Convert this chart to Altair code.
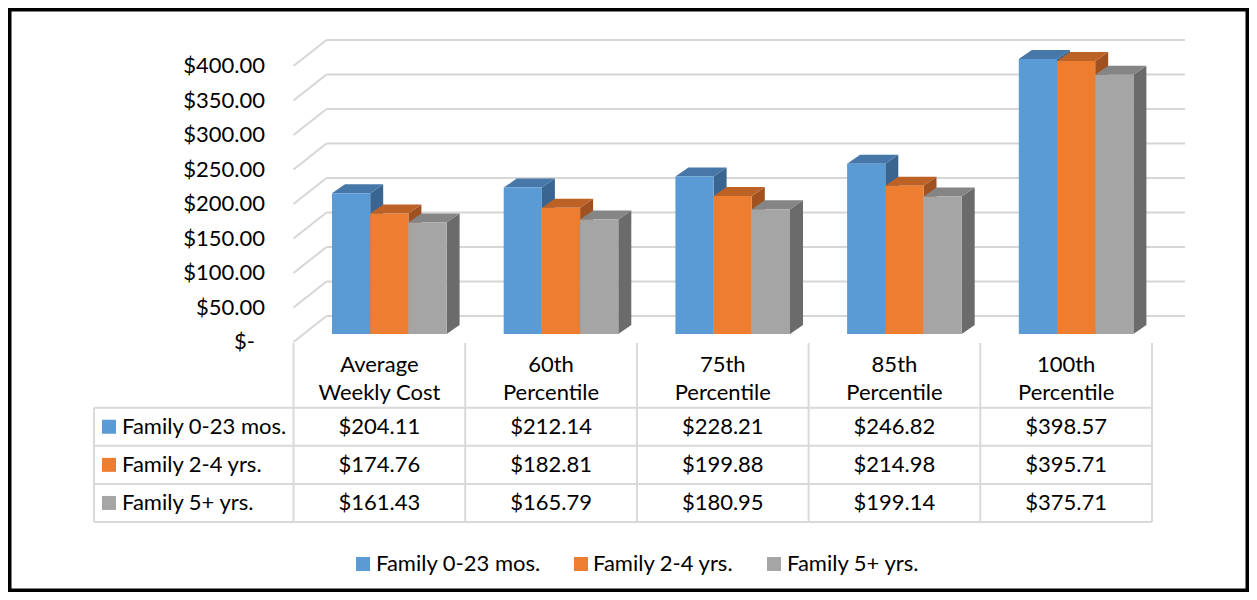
import altair as alt
import pandas as pd

# ---------------- data ----------------
categories = ["Average Weekly Cost", "60th Percentile", "75th Percentile",
              "85th Percentile", "100th Percentile"]
header_line1 = ["Average", "60th", "75th", "85th", "100th"]
header_line2 = ["Weekly Cost", "Percentile", "Percentile", "Percentile", "Percentile"]
series = ["Family 0-23 mos.", "Family 2-4 yrs.", "Family 5+ yrs."]
values_0_23 = [204.11, 212.14, 228.21, 246.82, 398.57]
values_2_4 = [174.76, 182.81, 199.88, 214.98, 395.71]
values_5p = [161.43, 165.79, 180.95, 199.14, 375.71]
tick_values = [50, 100, 150, 200, 250, 300, 350, 400]
tick_labels = ["$50.00", "$100.00", "$150.00", "$200.00",
               "$250.00", "$300.00", "$350.00", "$400.00"]
zero_value = [0]
zero_label = ["$-"]

front_colors = ["#5B9BD5", "#ED7D31", "#A5A5A5"]
top_colors = ["#4677a8", "#bd6226", "#858585"]
side_colors = ["#3b6591", "#a0511f", "#6b6b6b"]
FONT = "Lato"
FS = 22
LEG_FS = 22

# ---------------- layout (pixels) ----------------
W, H = 1241, 584
PAGE = 8
COL0_PX, COL_PX = 293.5, 171.7       # first table column boundary, column width
ZERO_PX, PX_PER_D = 342.0, 0.69      # front-plane $0 position, px per dollar
ROW0_PX, ROW_PX = 407.7, 38.1        # first data row top, row height
LEG_Y_PX = 564
LEG_SQ_PX = [363, 581, 774]          # legend square centres
LEG_TX_PX = [376, 593, 787]          # legend label starts


def ux(px):
    return (px - COL0_PX) / COL_PX


def ulen(px):
    return px / COL_PX


def dlen(px):
    return px / PX_PER_D


def ty(px):
    return (px - ROW0_PX) / ROW_PX


XDOM = [ux(PAGE), ux(PAGE + W)]
YDOM = [(ZERO_PX - (PAGE + H)) / PX_PER_D, (ZERO_PX - PAGE) / PX_PER_D]
TDOM = [ty(PAGE), ty(PAGE + H)]

xs = alt.Scale(domain=XDOM, nice=False, zero=False)
ys = alt.Scale(domain=YDOM, nice=False, zero=False)
ts = alt.Scale(domain=TDOM, nice=False, zero=False, reverse=True)

GRID_DX, GRID_DY = ulen(33), dlen(26)
BAR_W = ulen(38.2)
GROUP_OFF = ulen(38.5)
BASE = dlen(8)
TOP_DX, TOP_DY = ulen(13), dlen(9)

all_values = [values_0_23, values_2_4, values_5p]
grid_values = zero_value + tick_values

# ---------------- tables ----------------
grid = pd.DataFrame({
    "x": [0.0] * len(grid_values),
    "x2": [GRID_DX] * len(grid_values),
    "xb2": [5 + GRID_DX] * len(grid_values),
    "y": grid_values,
    "y2": [v + GRID_DY for v in grid_values],
})
ylab = pd.DataFrame({"x": [ux(265)] * len(tick_values), "y": tick_values, "text": tick_labels})
ylab0 = pd.DataFrame({"x": [ux(265)], "y": zero_value, "text": zero_label})

fronts, tops, sides = [], [], []
for ci, cat in enumerate(categories):
    for si, s in enumerate(series):
        v = all_values[si][ci]
        l = ci + GROUP_OFF + si * BAR_W
        r = l + BAR_W
        bid = f"{ci}-{si}"
        fronts.append({"x": l, "x2": r, "y": BASE, "y2": BASE + v, "series": s})
        tops.append({"id": bid, "y": BASE + v, "x": l, "x2": r, "fill": top_colors[si]})
        tops.append({"id": bid, "y": BASE + v + TOP_DY, "x": l + TOP_DX, "x2": r + TOP_DX,
                     "fill": top_colors[si]})
        sides.append({"id": bid, "x": r, "y": BASE, "y2": BASE + v, "fill": side_colors[si]})
        sides.append({"id": bid, "x": r + TOP_DX, "y": BASE + TOP_DY, "y2": BASE + v + TOP_DY,
                      "fill": side_colors[si]})
fronts, tops, sides = pd.DataFrame(fronts), pd.DataFrame(tops), pd.DataFrame(sides)

hlines = pd.DataFrame({"x": [ux(94)] * 4, "x2": [5.0] * 4, "t": [0, 1, 2, 3]})
vlines = pd.DataFrame({"x": [0, 1, 2, 3, 4, 5, ux(94)],
                       "t": [ty(343)] * 6 + [0],
                       "t2": [3] * 7})
head_rows = []
for ci in range(len(categories)):
    head_rows.append({"x": ci + 0.5, "t": ty(365), "text": header_line1[ci]})
    head_rows.append({"x": ci + 0.5, "t": ty(393), "text": header_line2[ci]})
heads = pd.DataFrame(head_rows)
cells = pd.DataFrame([
    {"x": ci + 0.5, "t": si + 0.5, "text": f"${all_values[si][ci]:,.2f}"}
    for si in range(len(series)) for ci in range(len(categories))
])
rowlab = pd.DataFrame({"xs": [ux(109)] * 3, "xt": [ux(122)] * 3,
                       "t": [0.5, 1.5, 2.5], "text": series, "fill": front_colors})
legend = pd.DataFrame({"xs": [ux(p) for p in LEG_SQ_PX], "xt": [ux(p) for p in LEG_TX_PX],
                       "t": [ty(LEG_Y_PX)] * 3, "text": series, "fill": front_colors})

# ---------------- plot layers ----------------
X = lambda f="x": alt.X(f"{f}:Q", scale=xs, axis=None)
Y = lambda f="y": alt.Y(f"{f}:Q", scale=ys, axis=None)
T = lambda f="t": alt.Y(f"{f}:Q", scale=ts, axis=None)

gcol, gw = "#d6d6d6", 2
grid_diag = alt.Chart(grid).mark_rule(color=gcol, strokeWidth=gw).encode(
    x=X(), x2="x2:Q", y=Y(), y2="y2:Q")
grid_back = alt.Chart(grid).mark_rule(color=gcol, strokeWidth=gw).encode(
    x=alt.X("x2:Q", scale=xs, axis=None), x2="xb2:Q", y=Y("y2"))
ylabels = alt.Chart(ylab).mark_text(align="right", baseline="middle", font=FONT,
                                    fontSize=FS, color="#000").encode(
    x=X(), y=Y(), text="text:N")
ylabel0 = alt.Chart(ylab0).mark_text(align="right", baseline="middle", font=FONT,
                                     fontSize=FS, color="#000", dx=-10).encode(
    x=X(), y=Y(), text="text:N")

side_l = alt.Chart(sides).mark_area(orient="vertical").encode(
    x=X(), y=alt.Y("y:Q", scale=ys, axis=None, stack=None), y2="y2:Q",
    detail="id:N", fill=alt.Fill("fill:N", scale=None))
top_l = alt.Chart(tops).mark_area(orient="horizontal").encode(
    y=Y(), x=alt.X("x:Q", scale=xs, axis=None, stack=None), x2="x2:Q",
    detail="id:N", fill=alt.Fill("fill:N", scale=None))
front_l = alt.Chart(fronts).mark_rect().encode(
    x=X(), x2="x2:Q", y=Y(), y2="y2:Q",
    color=alt.Color("series:N", scale=alt.Scale(domain=series, range=front_colors),
                    sort=series, legend=None))

plot = alt.layer(grid_diag, grid_back, ylabels, ylabel0, side_l, top_l, front_l)

# ---------------- table + legend layers ----------------
tcol = "#d9d9d9"
t_h = alt.Chart(hlines).mark_rule(color=tcol, strokeWidth=2).encode(x=X(), x2="x2:Q", y=T())
t_v = alt.Chart(vlines).mark_rule(color=tcol, strokeWidth=2).encode(x=X(), y=T(), y2="t2:Q")
t_head = alt.Chart(heads).mark_text(baseline="middle", font=FONT, fontSize=FS,
                                    color="#000").encode(x=X(), y=T(), text="text:N")
t_cell = alt.Chart(cells).mark_text(baseline="middle", font=FONT, fontSize=FS,
                                    color="#000").encode(x=X(), y=T(), text="text:N")
t_sq = alt.Chart(rowlab).mark_square(size=196, opacity=1).encode(
    x=X("xs"), y=T(), fill=alt.Fill("fill:N", scale=None))
t_lab = alt.Chart(rowlab).mark_text(align="left", baseline="middle", font=FONT,
                                    fontSize=FS, color="#000").encode(
    x=X("xt"), y=T(), text="text:N")
l_sq = alt.Chart(legend).mark_square(size=196, opacity=1).encode(
    x=X("xs"), y=T(), fill=alt.Fill("fill:N", scale=None))
l_lab = alt.Chart(legend).mark_text(align="left", baseline="middle", font=FONT,
                                    fontSize=LEG_FS, color="#000").encode(
    x=X("xt"), y=T(), text="text:N")

table = alt.layer(t_h, t_v, t_head, t_cell, t_sq, t_lab, l_sq, l_lab)

chart = alt.layer(plot, table).resolve_scale(y="independent").properties(
    width=W, height=H, padding=0,
    autosize=alt.AutoSizeParams(type="none"),
).configure(background="white").configure_view(stroke="#000", strokeWidth=7)

chart.save("out.html", embed_options={"renderer": "svg", "actions": False})
